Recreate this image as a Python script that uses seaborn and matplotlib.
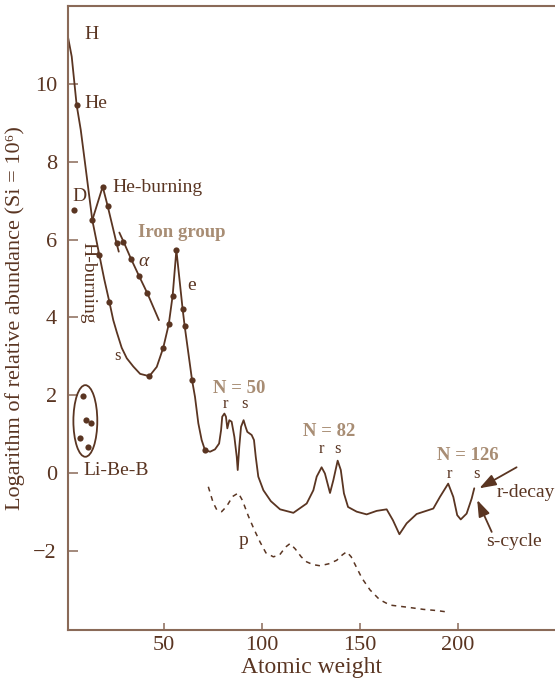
import matplotlib
matplotlib.use("Agg")
import matplotlib.pyplot as plt
from matplotlib.patches import Ellipse
import seaborn as sns
import pandas as pd

# ---------------- data ----------------
# main abundance curve (s-curve / H-burning through heavy elements)
main_x = [1.0, 2.9, 5.4, 7.5, 9.7, 13.4, 17.0, 19.5, 22.1, 24.1, 25.9, 28.4, 31.0,
          34.3, 37.8, 42.5, 46.3, 49.6, 52.4, 54.4, 56.3, 59.5, 60.5, 64.3, 65.8,
          67.5, 69.2, 70.9, 73.5, 76.0, 78.1, 79.1, 79.7, 80.8, 81.6, 82.3, 83.3,
          84.5, 85.9, 87.1, 87.6, 88.4, 89.3, 90.6, 91.6, 92.5, 94.7, 95.9, 96.8,
          98.1, 100.7, 104.5, 109.2, 116.0, 122.8, 126.2, 127.9, 130.4, 132.1,
          134.7, 136.4, 138.6, 140.2, 141.8, 143.9, 148.3, 153.4, 158.5, 163.6,
          166.8, 170.1, 173.8, 178.9, 187.4, 190.8, 195.0, 197.6, 199.6, 201.4,
          204.4, 207.0, 208.3]
main_y = [11.2, 10.7, 9.46, 8.82, 7.96, 6.5, 5.6, 4.98, 4.4, 3.93, 3.62, 3.22, 2.95,
          2.74, 2.55, 2.49, 2.73, 3.22, 3.82, 4.56, 5.73, 4.21, 3.79, 2.39, 1.96,
          1.28, 0.85, 0.59, 0.55, 0.61, 0.76, 1.1, 1.45, 1.53, 1.45, 1.15, 1.36,
          1.32, 0.93, 0.42, 0.08, 0.68, 1.19, 1.36, 1.19, 1.06, 0.98, 0.85, 0.42,
          -0.09, -0.44, -0.72, -0.93, -1.02, -0.78, -0.44, -0.09, 0.15, -0.01,
          -0.51, -0.18, 0.32, 0.08, -0.52, -0.87, -0.99, -1.06, -0.97, -0.93,
          -1.21, -1.57, -1.29, -1.05, -0.91, -0.61, -0.27, -0.61, -1.08, -1.19,
          -1.04, -0.65, -0.39]
main_dots_x = [5.4, 13.4, 17.0, 22.1, 42.5, 49.6, 52.4, 54.4, 56.3, 59.5, 60.5, 64.3, 70.9]
main_dots_y = [9.46, 6.5, 5.6, 4.4, 2.49, 3.22, 3.82, 4.56, 5.73, 4.21, 3.79, 2.39, 0.59]

# He-burning branch
heb_x = [13.4, 18.7, 21.3, 25.8, 26.9]
heb_y = [6.5, 7.36, 6.85, 5.9, 5.69]
heb_dots_x = [18.7, 21.3, 25.8]
heb_dots_y = [7.36, 6.85, 5.9]

# alpha-process line
alpha_x = [27.2, 29.3, 33.2, 37.2, 41.5, 47.4]
alpha_y = [6.18, 5.95, 5.5, 5.07, 4.62, 3.93]
alpha_dots_x = [29.3, 33.2, 37.2, 41.5]
alpha_dots_y = [5.95, 5.5, 5.07, 4.62]

# p-process (dashed)
p_x = [72.6, 75.0, 77.0, 79.4, 82.0, 85.0, 87.9, 90.0, 93.0, 96.0, 99.0, 102.0,
       105.8, 109.0, 112.0, 114.3, 117.0, 120.0, 122.8, 126.0, 129.6, 134.0,
       138.1, 141.0, 143.2, 145.5, 148.0, 151.0, 155.1, 160.0, 165.3, 175.0,
       182.3, 189.0, 195.0]
p_y = [-0.35, -0.75, -0.95, -0.99, -0.85, -0.6, -0.51, -0.7, -1.1, -1.45, -1.77, -2.05,
       -2.15, -2.1, -1.9, -1.81, -1.95, -2.15, -2.28, -2.35, -2.38, -2.33,
       -2.24, -2.1, -2.02, -2.15, -2.4, -2.7, -3.0, -3.25, -3.39, -3.45,
       -3.5, -3.53, -3.57]

# isolated points
d_x, d_y = [4.1], [6.76]
libeb_x = [8.8, 10.2, 12.6, 7.1, 11.4]
libeb_y = [1.99, 1.36, 1.29, 0.89, 0.66]

x_ticks = [50, 100, 150, 200]
y_ticks = [-2, 0, 2, 4, 6, 8, 10]

# ---------------- style ----------------
DARK = "#5a3522"
TAN = "#a88d74"
SPINE = "#8a6a58"

sns.set_style("ticks")
plt.rcParams["font.family"] = ["Liberation Serif", "DejaVu Serif"]
plt.rcParams["text.color"] = DARK
plt.rcParams["axes.labelcolor"] = DARK

fig = plt.figure(figsize=(5.55, 6.9), dpi=100)
ax = fig.add_axes([68 / 555, 1 - 630 / 690, 1 - 68 / 555, (630 - 6) / 690])

lw = 1.3
for xs, ys in [(main_x, main_y), (heb_x, heb_y), (alpha_x, alpha_y)]:
    sns.lineplot(data=pd.DataFrame({"x": xs, "y": ys}), x="x", y="y",
                 sort=False, estimator=None, color=DARK, lw=lw, ax=ax)
    ax.lines[-1].set_solid_joinstyle("round")
sns.lineplot(data=pd.DataFrame({"x": p_x, "y": p_y}), x="x", y="y",
             sort=False, estimator=None, color=DARK, lw=1.1, ax=ax,
             linestyle=(0, (3.2, 3.2)))

dots_x = main_dots_x + heb_dots_x + alpha_dots_x + d_x + libeb_x
dots_y = main_dots_y + heb_dots_y + alpha_dots_y + d_y + libeb_y
sns.scatterplot(x=dots_x, y=dots_y, color=DARK, s=20, linewidth=0, ax=ax, zorder=5)

ax.add_patch(Ellipse((9.85, 1.34), 12.2, 1.84, fill=False, edgecolor=DARK, lw=lw))

# ---------------- axes ----------------
ax.set_xlim(1.0, 249.5)
ax.set_ylim(-4.03, 12.0)
ax.set_xticks(x_ticks)
ax.set_yticks(y_ticks)
ax.set_yticklabels(["\u22122" if v == -2 else str(v) for v in y_ticks])
ax.spines["right"].set_visible(False)
for s in ["left", "top", "bottom"]:
    ax.spines[s].set_color(SPINE)
    ax.spines[s].set_linewidth(1.5)
ax.tick_params(axis="y", direction="in", length=7.5, width=1.1, color=SPINE,
               labelsize=16, labelcolor=DARK, pad=8)
ax.tick_params(axis="x", direction="in", length=5, width=1.1, color=SPINE,
               labelsize=16, labelcolor=DARK, pad=4)
ax.set_xlabel("Atomic weight", fontsize=17, color=DARK, labelpad=2)
ax.set_ylabel("Logarithm of relative abundance (Si = 10\u2076)", fontsize=16,
              color=DARK, labelpad=6)

# ---------------- annotations ----------------
fs = 14
ax.text(9.2, 11.26, "H", fontsize=fs, va="center", ha="left")
ax.text(9.2, 9.49, "He", fontsize=fs, va="center", ha="left")
ax.text(6.6, 7.1, "D", fontsize=fs, va="center", ha="center")
ax.text(23.5, 7.33, "He-burning", fontsize=fs, va="center", ha="left")
ax.text(59, 6.18, "Iron group", fontsize=13.5, va="center", ha="center",
        color=TAN, fontweight="bold")
ax.text(39.8, 5.43, "\u03b1", fontsize=fs, va="center", ha="center", style="italic")
ax.text(64.3, 4.83, "e", fontsize=fs, va="center", ha="center")
ax.text(11.2, 4.88, "H-burning", fontsize=fs, va="center", ha="center", rotation=-90)
ax.text(26.3, 3.02, "s", fontsize=12, va="center", ha="center")
ax.text(8.8, 0.08, "Li-Be-B", fontsize=fs, va="center", ha="left")
ax.text(90.5, -1.72, "p", fontsize=fs, va="center", ha="center")

ax.text(88.4, 2.18, "N = 50", fontsize=13.5, va="center", ha="center",
        color=TAN, fontweight="bold")
ax.text(81.1, 1.77, "r", fontsize=12, va="center", ha="center")
ax.text(91.0, 1.77, "s", fontsize=12, va="center", ha="center")
ax.text(134.3, 1.06, "N = 82", fontsize=13.5, va="center", ha="center",
        color=TAN, fontweight="bold")
ax.text(130.1, 0.61, "r", fontsize=12, va="center", ha="center")
ax.text(138.4, 0.61, "s", fontsize=12, va="center", ha="center")
ax.text(204.8, 0.45, "N = 126", fontsize=13.5, va="center", ha="center",
        color=TAN, fontweight="bold")
ax.text(195.4, -0.03, "r", fontsize=12, va="center", ha="center")
ax.text(209.5, -0.03, "s", fontsize=12, va="center", ha="center")

arrow_style = dict(arrowstyle="-|>,head_length=1.0,head_width=0.35",
                   color=DARK, lw=1.3, shrinkA=0, shrinkB=0)
ax.annotate("", xy=(210.9, -0.39), xytext=(229.9, 0.15), arrowprops=arrow_style)
ax.text(219.7, -0.51, "r-decay", fontsize=fs, va="center", ha="left")
ax.annotate("", xy=(209.8, -0.69), xytext=(217.2, -1.51), arrowprops=arrow_style)
ax.text(214.6, -1.75, "s-cycle", fontsize=fs, va="center", ha="left")

fig.savefig("out.png", dpi=100)
